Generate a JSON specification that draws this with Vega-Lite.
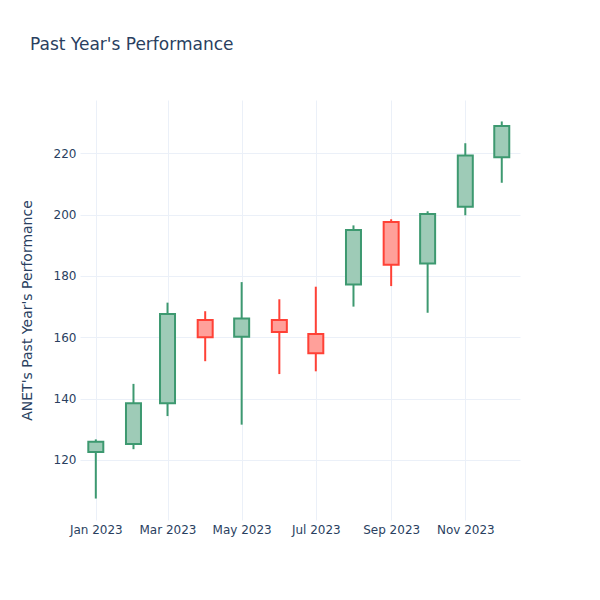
{
  "$schema": "https://vega.github.io/schema/vega-lite/v6.json",
  "width": 440,
  "height": 420,
  "autosize": {"type": "none"},
  "padding": {"left": 80, "top": 100, "right": 80, "bottom": 80},
  "background": "white",
  "config": {
    "font": "DejaVu Sans",
    "view": {"stroke": null},
    "axis": {
      "gridColor": "#EBF0F8",
      "gridWidth": 1,
      "domain": false,
      "ticks": false,
      "labelColor": "#2a3f5f",
      "labelFontSize": 12,
      "titleColor": "#2a3f5f",
      "titleFontWeight": "normal",
      "labelFont": "DejaVu Sans",
      "titleFont": "DejaVu Sans"
    }
  },
  "title": {
    "text": "Past Year's Performance",
    "anchor": "start",
    "frame": "group",
    "dx": -50,
    "offset": 46,
    "fontSize": 17,
    "fontWeight": "normal",
    "color": "#2a3f5f",
    "font": "DejaVu Sans"
  },
  "data": {
    "values": [
      {"date": "2023-01-01", "open": 122.6, "close": 125.9, "high": 126.7, "low": 107.4, "dir": "up"},
      {"date": "2023-02-01", "open": 125.2, "close": 138.5, "high": 144.8, "low": 123.5, "dir": "up"},
      {"date": "2023-03-01", "open": 138.5, "close": 167.6, "high": 171.3, "low": 134.3, "dir": "up"},
      {"date": "2023-04-01", "open": 165.6, "close": 160.0, "high": 168.5, "low": 152.2, "dir": "down"},
      {"date": "2023-05-01", "open": 160.2, "close": 166.1, "high": 178.0, "low": 131.5, "dir": "up"},
      {"date": "2023-06-01", "open": 165.6, "close": 161.7, "high": 172.4, "low": 148.0, "dir": "down"},
      {"date": "2023-07-01", "open": 161.1, "close": 154.8, "high": 176.5, "low": 148.9, "dir": "down"},
      {"date": "2023-08-01", "open": 177.2, "close": 195.0, "high": 196.5, "low": 170.0, "dir": "up"},
      {"date": "2023-09-01", "open": 197.6, "close": 183.7, "high": 198.5, "low": 176.7, "dir": "down"},
      {"date": "2023-10-01", "open": 184.1, "close": 200.2, "high": 201.1, "low": 168.0, "dir": "up"},
      {"date": "2023-11-01", "open": 202.6, "close": 219.3, "high": 223.3, "low": 199.8, "dir": "up"},
      {"date": "2023-12-01", "open": 218.7, "close": 228.9, "high": 230.4, "low": 210.4, "dir": "up"}
    ]
  },
  "encoding": {
    "x": {
      "field": "date",
      "type": "temporal",
      "scale": {
        "type": "utc",
        "padding": 0,
        "domain": [
          {"year": 2022, "month": 12, "date": 19, "utc": true},
          {"year": 2023, "month": 12, "date": 16, "utc": true}
        ]
      },
      "axis": {
        "title": null,
        "format": "%b %Y",
        "labelPadding": 4,
        "labelAngle": 0,
        "values": [
          {"year": 2023, "month": 1, "date": 1, "utc": true},
          {"year": 2023, "month": 3, "date": 1, "utc": true},
          {"year": 2023, "month": 5, "date": 1, "utc": true},
          {"year": 2023, "month": 7, "date": 1, "utc": true},
          {"year": 2023, "month": 9, "date": 1, "utc": true},
          {"year": 2023, "month": 11, "date": 1, "utc": true}
        ]
      }
    }
  },
  "layer": [
    {
      "mark": {"type": "rule", "strokeWidth": 2},
      "encoding": {
        "y": {
          "field": "low",
          "type": "quantitative",
          "scale": {"domain": [100.4, 237.4], "nice": false, "zero": false},
          "axis": {
            "title": "ANET's Past Year's Performance",
            "values": [120, 140, 160, 180, 200, 220],
            "labelPadding": 4,
            "titleFontSize": 14,
            "titleX": -53,
            "titleY": 210,
            "titleAngle": -90,
            "titleAlign": "center",
            "titleBaseline": "middle"
          }
        },
        "y2": {"field": "high"},
        "color": {
          "field": "dir",
          "type": "nominal",
          "scale": {"domain": ["up", "down"], "range": ["#3D9970", "#FF4136"]},
          "legend": null
        }
      }
    },
    {
      "mark": {"type": "bar", "size": 15, "strokeWidth": 2, "fillOpacity": 1},
      "encoding": {
        "y": {"field": "open", "type": "quantitative"},
        "y2": {"field": "close"},
        "stroke": {
          "field": "dir",
          "type": "nominal",
          "scale": {"domain": ["up", "down"], "range": ["#3D9970", "#FF4136"]},
          "legend": null
        },
        "fill": {
          "field": "dir",
          "type": "nominal",
          "scale": {"domain": ["up", "down"], "range": ["#9ecbb7", "#ffa09a"]},
          "legend": null
        }
      }
    }
  ]
}
